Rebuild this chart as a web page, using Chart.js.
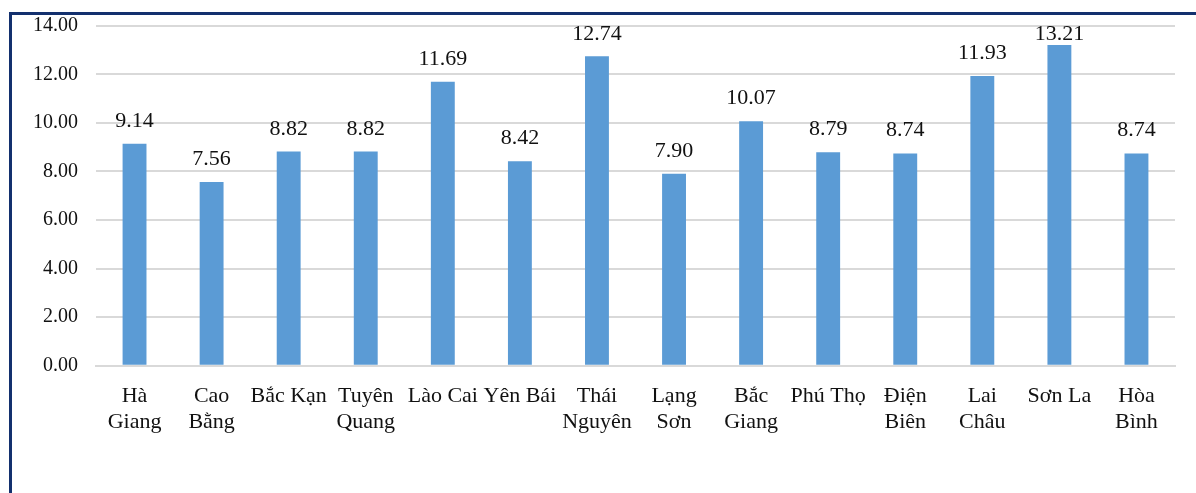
<!DOCTYPE html>
<html>
<head>
<meta charset="utf-8">
<script src="https://cdn.jsdelivr.net/npm/chart.js@4/dist/chart.umd.min.js"></script>
<style>
  html, body { margin: 0; padding: 0; background: #fff; }
  #wrap { position: relative; width: 1196px; height: 493px; overflow: hidden; }
  #frame { position: absolute; left: 9px; top: 12px; right: -10px; bottom: -10px;
           border-left: 3px solid #13306e; border-top: 3px solid #13306e; }
  canvas { position: absolute; left: 0; top: 0; }
</style>
</head>
<body>
<div id="wrap">
  <div id="frame"></div>
  <canvas id="c" width="1196" height="493"></canvas>
</div>
<script>
const categories = [
  ["Hà", "Giang"], ["Cao", "Bằng"], "Bắc Kạn", ["Tuyên", "Quang"], "Lào Cai", "Yên Bái",
  ["Thái", "Nguyên"], ["Lạng", "Sơn"], ["Bắc", "Giang"], "Phú Thọ", ["Điện", "Biên"],
  ["Lai", "Châu"], "Sơn La", ["Hòa", "Bình"]
];
const values = [9.14, 7.56, 8.82, 8.82, 11.69, 8.42, 12.74, 7.90, 10.07, 8.79, 8.74, 11.93, 13.21, 8.74];
const yMin = 0, yMax = 14, yStep = 2;

const FONT = "'Liberation Serif', 'Times New Roman', serif";

const valueLabels = {
  id: 'valueLabels',
  afterDatasetsDraw(chart) {
    const ctx = chart.ctx;
    const meta = chart.getDatasetMeta(0);
    const minBaseline = chart.chartArea.top + 14.5;
    ctx.save();
    ctx.font = "22px " + FONT;
    ctx.fillStyle = "#111";
    ctx.textAlign = "center";
    ctx.textBaseline = "alphabetic";
    meta.data.forEach((bar, i) => {
      const yb = Math.max(bar.y - 17, minBaseline);
      ctx.fillText(values[i].toFixed(2), bar.x, yb);
    });
    ctx.restore();
  }
};

new Chart(document.getElementById('c'), {
  type: 'bar',
  data: {
    labels: categories,
    datasets: [{
      data: values,
      backgroundColor: '#5B9BD5',
      borderWidth: 0,
      categoryPercentage: 1,
      barPercentage: 0.31
    }]
  },
  options: {
    responsive: false,
    animation: false,
    events: [],
    layout: { padding: { left: 0, top: 25.7, right: 21, bottom: 0 } },
    plugins: { legend: { display: false }, tooltip: { enabled: false } },
    scales: {
      x: {
        grid: { display: false, drawTicks: false },
        border: { display: true, color: '#d9d9d9', width: 2 },
        ticks: {
          font: { family: FONT, size: 22, lineHeight: 1.18 },
          color: '#111',
          padding: 18,
          maxRotation: 0,
          autoSkip: false
        },
        afterFit(s) { s.height = 127.3; s.paddingLeft = 0; s.paddingRight = 0; }
      },
      y: {
        min: yMin, max: yMax,
        grid: { color: '#d9d9d9', lineWidth: 2, drawTicks: false },
        border: { display: false },
        ticks: {
          stepSize: yStep,
          font: { family: FONT, size: 20 },
          color: '#111',
          padding: 18,
          callback: v => Number(v).toFixed(2)
        },
        afterFit(s) { s.width = 96; s.paddingTop = 0; s.paddingBottom = 0; }
      }
    }
  },
  plugins: [valueLabels]
});
</script>
</body>
</html>
